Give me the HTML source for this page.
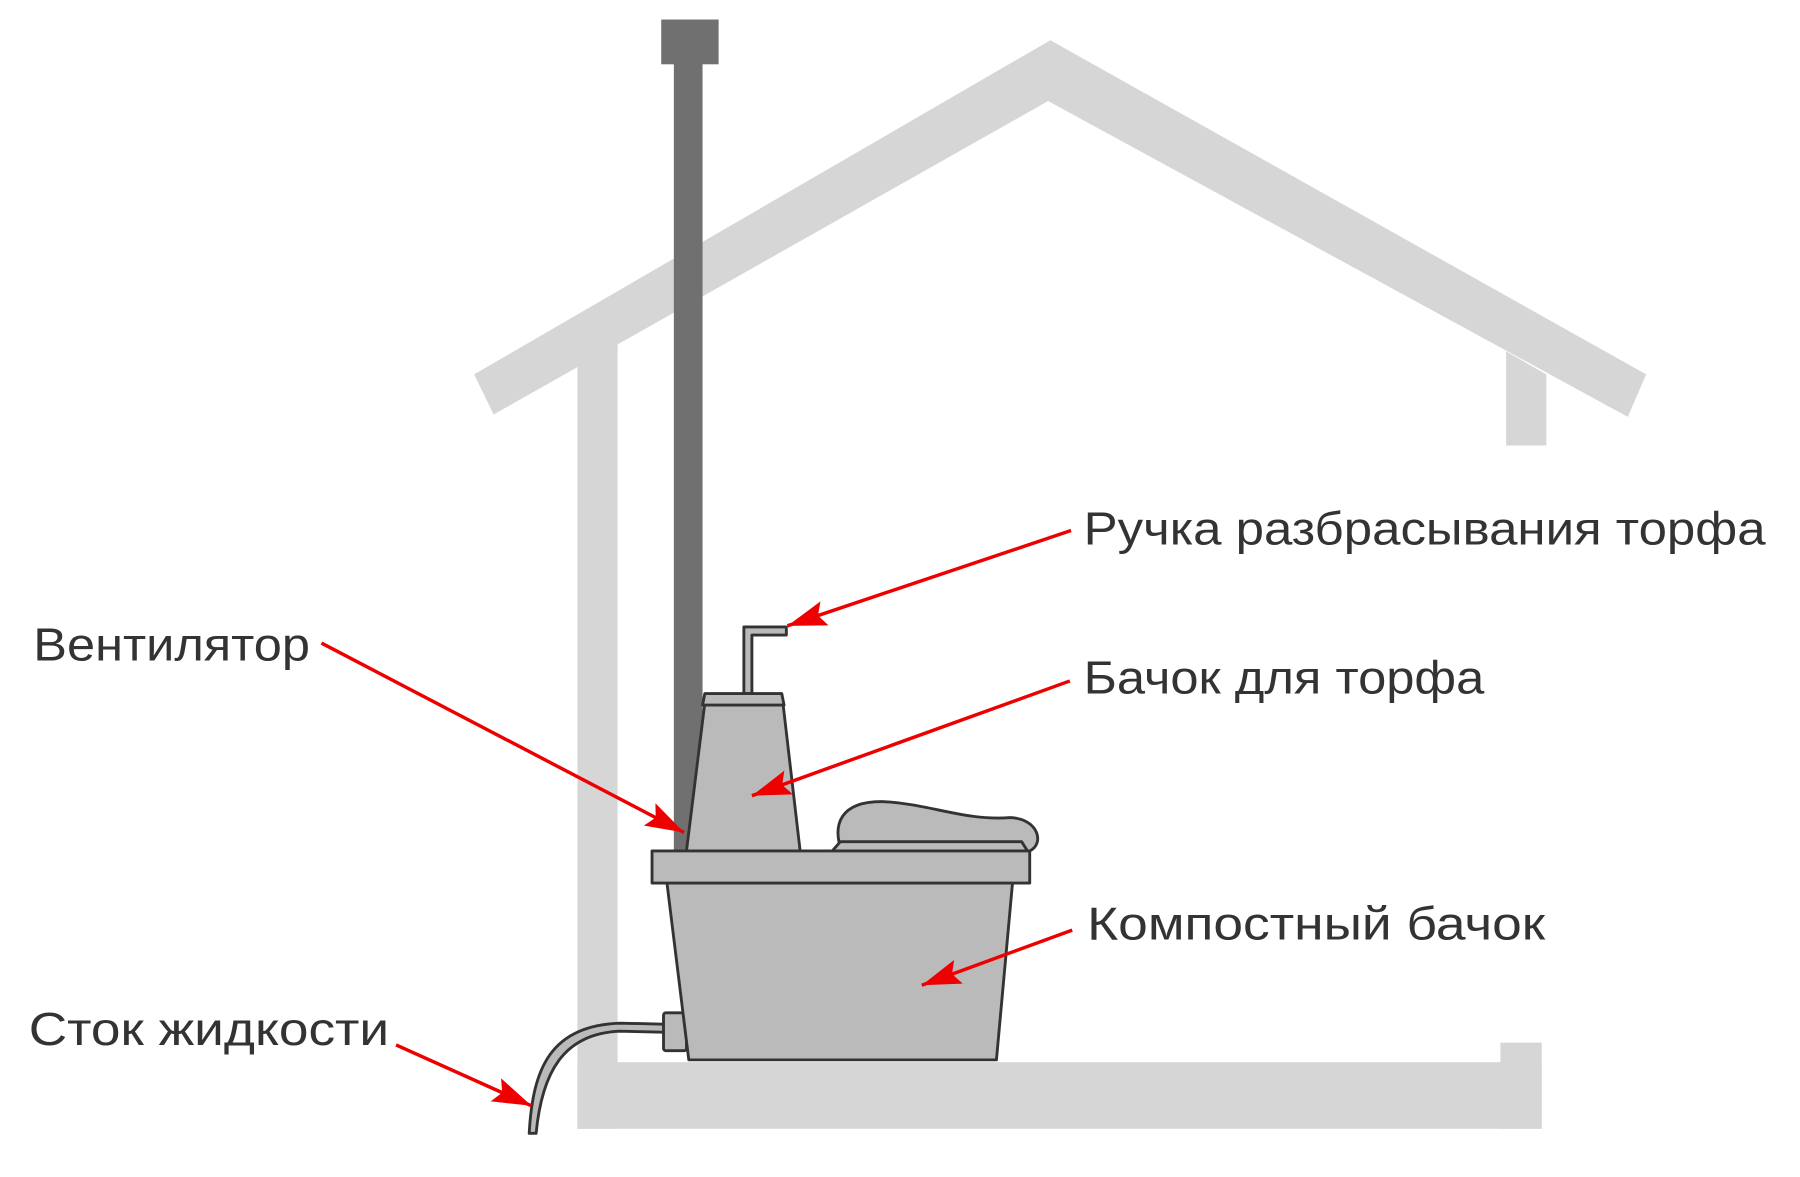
<!DOCTYPE html>
<html><head><meta charset="utf-8"><style>html,body{margin:0;padding:0;background:#fff}svg{display:block}</style></head>
<body>
<svg width="1800" height="1177" viewBox="0 0 1568 1025" preserveAspectRatio="none" xmlns="http://www.w3.org/2000/svg">
<defs>
<marker id="b" viewBox="0 0 34 22" refX="34" refY="11" markerWidth="34" markerHeight="22" orient="auto" markerUnits="userSpaceOnUse"><path d="M0,0 L34,11 L0,22 L6,11z" fill="#e00"/></marker></defs>
<g fill="#d6d6d6">
<polygon points="413,326 915,35 1434,326 1418,363 913,88 430,361"/>
<polygon points="503,310 538,292 538,983 503,983"/>
<rect x="503" y="925" width="840" height="58"/>
<rect x="1307" y="908" width="36" height="75"/>
<polygon points="1312,306 1347,326 1347,388 1312,388"/>
</g>
<rect x="587" y="55" width="25" height="686" fill="#707070"/>
<rect x="576" y="17" width="50" height="39" fill="#707070"/>
<g fill="#bababa" stroke="#333" stroke-width="2.5" stroke-linejoin="round">
<path d="M461,987 C464,930 480,893 540,891 L582,892 L582,899 L540,898 C490,900 472,935 467,987z"/>
<rect x="578" y="882" width="20" height="33" rx="2"/>
<polygon points="581,769 882,769 868,923 600,923"/>
<path d="M648,604 L648,546 L685,546 L685,553 L655,553 L655,604z"/>
<polygon points="614,612 682,612 697,741 598,741"/>
<path d="M612,614 L614,604 L681,604 L683,614z"/>
<path d="M733,741 C725,718 732,698 768,698 C810,700 840,715 880,712 C905,713 910,735 897,741z"/>
<path d="M725,741 L732,733 L890,733 L895,741z"/>
<rect x="568" y="741" width="329" height="28"/>
</g>
<g stroke="#e00" stroke-width="3" fill="none">
<line x1="933" y1="462" x2="686" y2="545" marker-end="url(#b)"/>
<line x1="932" y1="593" x2="655" y2="693" marker-end="url(#b)"/>
<line x1="280" y1="560" x2="596" y2="725" marker-end="url(#b)"/>
<line x1="934" y1="810" x2="803" y2="858" marker-end="url(#b)"/>
<line x1="345" y1="910" x2="463" y2="963" marker-end="url(#b)"/>
</g>
<g font-family="Liberation Sans, sans-serif" font-size="40" fill="#333">
<text x="944" y="474" textLength="594" lengthAdjust="spacingAndGlyphs">Ручка разбрасывания торфа</text>
<text x="944" y="604" textLength="349" lengthAdjust="spacingAndGlyphs">Бачок для торфа</text>
<text x="29" y="575" textLength="241" lengthAdjust="spacingAndGlyphs">Вентилятор</text>
<text x="947" y="818" textLength="399" lengthAdjust="spacingAndGlyphs">Компостный бачок</text>
<text x="25" y="910" textLength="314" lengthAdjust="spacingAndGlyphs">Сток жидкости</text>
</g>
</svg>
</body></html>
